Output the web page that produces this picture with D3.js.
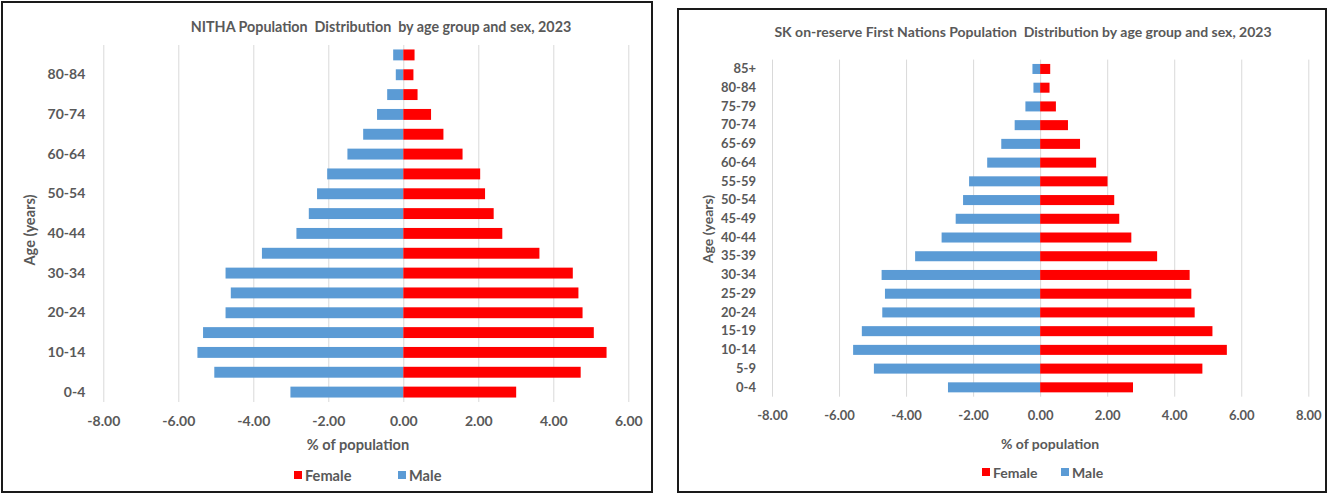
<!DOCTYPE html>
<html>
<head>
<meta charset="utf-8">
<script src="https://cdn.jsdelivr.net/npm/d3@7"></script>
<style>
  html, body { margin: 0; padding: 0; background: #fff; }
  svg { display: block; }
  text { font-family: Lato, "Open Sans", sans-serif; fill: #595959; }
</style>
</head>
<body>
<svg id="chart" width="1329" height="495"></svg>
<script>
// Age groups, youngest first
const ageGroups = ["0-4","5-9","10-14","15-19","20-24","25-29","30-34","35-39","40-44",
                   "45-49","50-54","55-59","60-64","65-69","70-74","75-79","80-84","85+"];

// NITHA, % of population (male shown on the negative side)
const nithaFemale = [3.01, 4.73, 5.42, 5.08, 4.78, 4.67, 4.52, 3.63, 2.64, 2.41, 2.18, 2.05, 1.58, 1.07, 0.74, 0.38, 0.27, 0.30];
const nithaMale   = [-3.01, -5.04, -5.49, -5.34, -4.74, -4.60, -4.74, -3.77, -2.85, -2.52, -2.30, -2.03, -1.49, -1.07, -0.70, -0.43, -0.20, -0.27];

// SK on-reserve First Nations, % of population
const skFemale = [2.77, 4.84, 5.57, 5.14, 4.61, 4.51, 4.46, 3.49, 2.72, 2.36, 2.21, 2.01, 1.67, 1.19, 0.83, 0.47, 0.28, 0.30];
const skMale   = [-2.75, -4.96, -5.58, -5.32, -4.71, -4.63, -4.73, -3.73, -2.94, -2.52, -2.30, -2.12, -1.58, -1.16, -0.76, -0.44, -0.20, -0.23];

// Axis ticks
const nithaTicks = [-8, -6, -4, -2, 0, 2, 4, 6];
const skTicks = [-8, -6, -4, -2, 0, 2, 4, 6, 8];
const nithaAgeLabels = ["0-4","10-14","20-24","30-34","40-44","50-54","60-64","70-74","80-84"];
const skAgeLabels = ageGroups;

const titles = {
  nitha: "NITHA Population  Distribution  by age group and sex, 2023",
  sk: "SK on-reserve First Nations Population  Distribution by age group and sex, 2023"
};
const xTitle = "% of population";
const yTitle = "Age (years)";
const seriesNames = ["Female", "Male"];
const colors = { Female: "#FF0000", Male: "#5B9BD5" };

const svg = d3.select("#chart");

function drawPyramid(cfg) {
  const g = svg.append("g");

  // panel frame
  g.append("rect")
    .attr("x", cfg.frame[0]).attr("y", cfg.frame[1])
    .attr("width", cfg.frame[2]).attr("height", cfg.frame[3])
    .attr("fill", "#fff").attr("stroke", "#1a1a1a").attr("stroke-width", 2);

  const x = d3.scaleLinear().domain(cfg.xDomain).range([cfg.left, cfg.right]);
  const y = d3.scaleBand().domain(ageGroups.slice().reverse())
    .range([cfg.top, cfg.bottom])
    .paddingInner(cfg.pad).paddingOuter(cfg.pad / 2);

  // vertical gridlines + value labels
  const xAxis = d3.axisBottom(x)
    .tickValues(cfg.ticks)
    .tickFormat(d => d.toFixed(2))
    .tickSize(-(cfg.bottom - cfg.top))
    .tickPadding(cfg.xTickPad);
  const xa = g.append("g").attr("transform", `translate(0,${cfg.bottom})`).call(xAxis);
  xa.select(".domain").remove();
  xa.selectAll(".tick line").attr("stroke", "#D9D9D9").attr("stroke-width", 1);
  xa.selectAll(".tick text")
    .attr("font-size", cfg.tickFont).attr("font-weight", 700)
    .style("font-family", "Lato, sans-serif").attr("fill", "#595959");

  // bars
  const rows = ageGroups.map((a, i) => ({ age: a, female: cfg.female[i], male: cfg.male[i] }));
  g.append("g").selectAll("rect").data(rows).join("rect")
    .attr("x", d => x(d.male))
    .attr("width", d => x(0) - x(d.male))
    .attr("y", d => y(d.age))
    .attr("height", y.bandwidth())
    .attr("fill", colors.Male);
  g.append("g").selectAll("rect").data(rows).join("rect")
    .attr("x", x(0))
    .attr("width", d => x(d.female) - x(0))
    .attr("y", d => y(d.age))
    .attr("height", y.bandwidth())
    .attr("fill", colors.Female);

  // age labels
  const yAxis = d3.axisLeft(y).tickValues(cfg.ageLabels).tickSize(0).tickPadding(cfg.yTickPad);
  const ya = g.append("g").attr("transform", `translate(${cfg.left},0)`).call(yAxis);
  ya.select(".domain").remove();
  ya.selectAll(".tick text")
    .attr("font-size", cfg.tickFont).attr("font-weight", 700)
    .style("font-family", "Lato, sans-serif").attr("fill", "#595959");

  // title
  g.append("text")
    .attr("x", cfg.titlePos[0]).attr("y", cfg.titlePos[1])
    .attr("text-anchor", "middle").attr("dominant-baseline", "central")
    .attr("font-size", cfg.titleFont).attr("font-weight", 700)
    .style("white-space", "pre")
    .text(cfg.title);

  // axis titles
  g.append("text")
    .attr("x", cfg.xTitlePos[0]).attr("y", cfg.xTitlePos[1])
    .attr("text-anchor", "middle").attr("dominant-baseline", "central")
    .attr("font-size", cfg.labelFont).attr("font-weight", 700)
    .text(xTitle);
  g.append("text")
    .attr("transform", `translate(${cfg.yTitlePos[0]},${cfg.yTitlePos[1]}) rotate(-90)`)
    .attr("text-anchor", "middle").attr("dominant-baseline", "central")
    .attr("font-size", cfg.labelFont).attr("font-weight", 700)
    .text(yTitle);

  // legend
  const lg = g.append("g");
  seriesNames.forEach((name, i) => {
    const lx = cfg.legendX[i];
    lg.append("rect")
      .attr("x", lx).attr("y", cfg.legendY - 4)
      .attr("width", 8).attr("height", 8)
      .attr("fill", colors[name]);
    lg.append("text")
      .attr("x", lx + 11).attr("y", cfg.legendY)
      .attr("dominant-baseline", "central")
      .attr("font-size", cfg.labelFont).attr("font-weight", 700)
      .text(name);
  });
}

drawPyramid({
  frame: [2, 2, 650, 490],
  xDomain: [-8, 6], left: 103.3, right: 628.3,
  top: 45, bottom: 402, pad: 0.45,
  ticks: nithaTicks, ageLabels: nithaAgeLabels,
  female: nithaFemale, male: nithaMale,
  tickFont: 14, labelFont: 14.6, xTickPad: 14, yTickPad: 18,
  title: titles.nitha, titleFont: 14.3, titlePos: [381, 26],
  xTitlePos: [358, 444], yTitlePos: [29, 230],
  legendX: [294, 398], legendY: 475
});

drawPyramid({
  frame: [678, 9, 648, 483],
  xDomain: [-8, 8], left: 772, right: 1308.3,
  top: 59.6, bottom: 396.7, pad: 0.465,
  ticks: skTicks, ageLabels: skAgeLabels,
  female: skFemale, male: skMale,
  tickFont: 13, labelFont: 14, xTickPad: 14, yTickPad: 16,
  title: titles.sk, titleFont: 14, titlePos: [1023, 31],
  xTitlePos: [1050, 443], yTitlePos: [707, 229],
  legendX: [982, 1061], legendY: 472
});
</script>
</body>
</html>
